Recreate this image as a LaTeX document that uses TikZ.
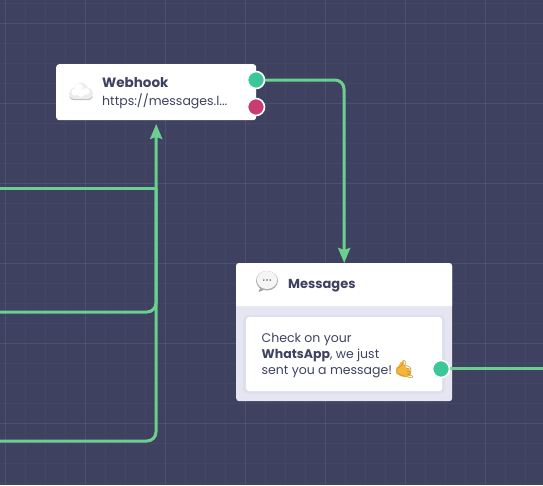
\documentclass[tikz,border=0pt]{standalone}
\usepackage{fontspec}
\setmainfont{Poppins}
\newfontfamily\emojifont{Noto Emoji}
\usetikzlibrary{arrows.meta,calc}
\definecolor{bg}{HTML}{3E4260}
\definecolor{gridminor}{HTML}{434764}
\definecolor{gridmajor}{HTML}{4D5170}
\definecolor{wire}{HTML}{6BCF8F}
\definecolor{portg}{HTML}{3CC896}
\definecolor{portr}{HTML}{C93C71}
\definecolor{ink}{HTML}{3E4260}
\definecolor{panel}{HTML}{E5E6F2}
\definecolor{panelshade}{HTML}{DEDFEC}
\definecolor{thumb}{HTML}{F2B63C}
\definecolor{thumbdark}{HTML}{C98A1E}
\tikzset{
  x=1pt,y=-1pt,
  card/.style={fill=white,draw=none,rounded corners=3pt,inner sep=0pt,anchor=north west},
  port/.style={circle,draw=white,line width=1.6pt,minimum size=17pt,inner sep=0pt},
  wireline/.style={draw=wire,line width=3pt,rounded corners=9pt},
  tip/.style={-{Stealth[length=15pt,width=12pt,inset=2pt]}},
  title/.style={font=\bfseries\fontsize{13}{16}\selectfont,text=ink,inner sep=0pt,anchor=base west},
  body/.style={font=\fontsize{12.5}{16}\selectfont,text=ink,inner sep=0pt,anchor=base west},
}
\begin{document}
\begin{tikzpicture}
\useasboundingbox (0,0) rectangle (543,485);
\fill[bg] (0,0) rectangle (543,485);
% grid
\foreach \gx in {5,25,...,545} \draw[gridminor,line width=.8pt] (\gx,0) -- (\gx,485);
\foreach \gy in {3,23,...,483} \draw[gridminor,line width=.8pt] (0,\gy) -- (543,\gy);
\foreach \gx in {5,85,...,485} \draw[gridmajor,line width=.9pt] (\gx,0) -- (\gx,485);
\foreach \gy in {23,103,...,423} \draw[gridmajor,line width=.9pt] (0,\gy) -- (543,\gy);

% free ends
\coordinate (inA) at (0,188);
\coordinate (inB) at (0,312);
\coordinate (inC) at (0,441);
\coordinate (outR) at (543,368.5);

% cards
\node[card,minimum width=200pt,minimum height=56pt] (webhook) at (56,64) {};
\node[card,fill=panel,minimum width=216pt,minimum height=138pt] (messages) at (236,263) {};
\fill[white] (236,306) -- (236,266) arc[start angle=180,end angle=90,radius=3pt] -- (449,263) arc[start angle=90,end angle=0,radius=3pt] -- (452,306) -- cycle;
\fill[panelshade,rounded corners=5pt] (243,315) rectangle (445,394);
\node[card,minimum width=196pt,minimum height=74pt] (bubble) at (246,317) {};

\coordinate (joinA) at (156,188);
\coordinate (webin) at ($(webhook.south)+(0,3.5)$);

% connectors
\path[wireline] (inA) -- (joinA);
\path[wireline] (inB) -- (156,312) -- (joinA);
\path[wireline,tip] (inC) -- (156,441) -- (webin);
\path[wireline,tip] (256,80) -- (344,80) -- (messages.north);
\path[wireline] (bubble.east |- outR) -- (outR);

\node[port,fill=portg] (webhookok) at (256,80) {};
\node[port,fill=portr] (webhookfail) at (256,107) {};
\node[port,fill=portg] (msgout) at (441,369) {};

% cloud icon
\begin{scope}[shift={(81,92)}]
  \fill[black!24,rounded corners=4pt] (-11.5,1.8) rectangle (11.5,8.2);
  \fill[black!24] (-6,1.5) circle (5.5pt) (0,-2.5) circle (6.5pt) (6,1.5) circle (5.5pt);
  \fill[black!7,rounded corners=4pt] (-11.5,0.6) rectangle (11.5,6.8);
  \fill[black!7] (-6,.5) circle (5.2pt) (0,-3.2) circle (6.2pt) (6,.5) circle (5.2pt);
  \fill[white] (-2,-4.5) circle (4pt) (-6,.2) circle (3.5pt) (5,-.5) circle (3.5pt) (0,1) circle (4pt);
\end{scope}

% speech bubble icon
\begin{scope}[shift={(267,280)}]
  \fill[black!38] (-6,6) -- (-8.5,12) -- (-1,9) -- cycle;
  \fill[black!32] (0,0.7) ellipse (11pt and 9.8pt);
  \fill[black!4] (0,0) ellipse (10.2pt and 9pt);
  \foreach \dx in {-3.2,0,3.2} \fill[black!65] (\dx,0) circle (.8pt);
\end{scope}

% texts
\node[title,font=\bfseries\fontsize{13.5}{16}\selectfont] (t1) at (102,87) {Webhook};
\node[body] (t2) at (102,105) {https://messages.l...};
\node[title] (t3) at (288,288) {Messages};
\node[body] (l1) at (261.5,342) {Check on your};
\node[body] (l2) at (261.5,358) {\textbf{WhatsApp}, we just};
\node[body] (l3) at (261.5,374) {sent you a message!};
% thumb: colour patch behind the emoji glyph
\fill[thumb,rounded corners=2pt] (398,367) -- (401.5,360.5) -- (404,361) -- (404,366.5) -- (410,369) -- (411,376) -- (401,377) -- (395,371) -- cycle;
\node[inner sep=0pt,anchor=base west,text=thumbdark,font=\emojifont\fontsize{17}{17}\selectfont] (hand) at (394,375) {🤙};
\end{tikzpicture}
\end{document}
